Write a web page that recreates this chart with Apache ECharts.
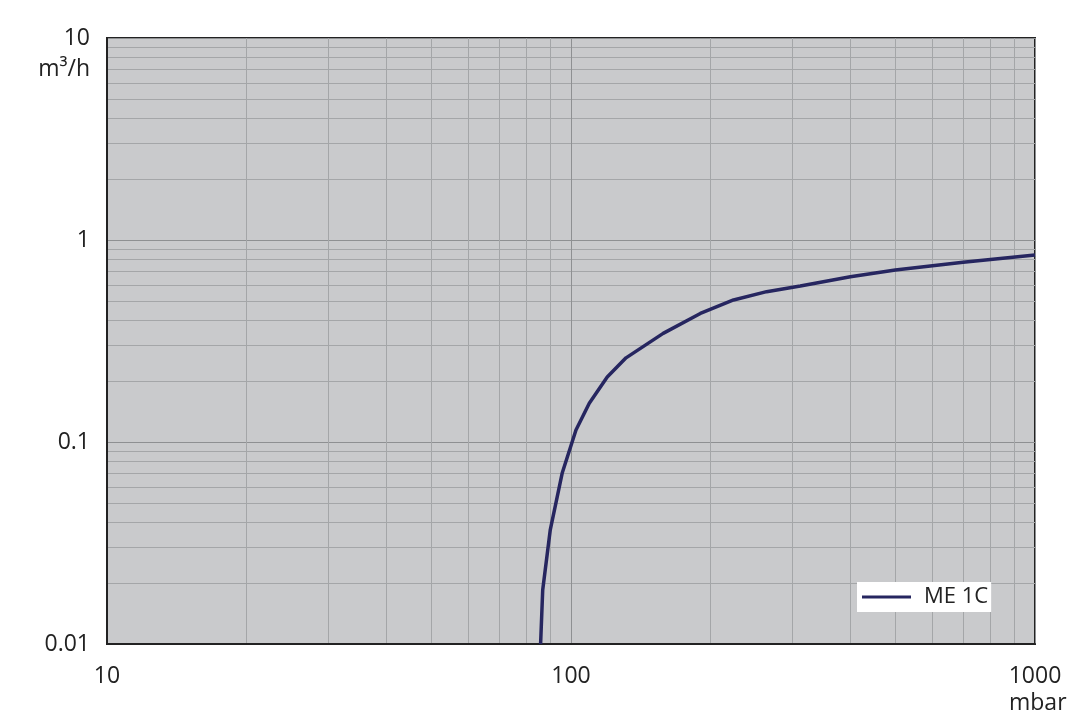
<!DOCTYPE html>
<html>
<head>
<meta charset="utf-8">
<script src="https://cdn.jsdelivr.net/npm/echarts@6/dist/echarts.min.js"></script>
<style>
  html, body { margin: 0; padding: 0; background: #fff; }
  #chart { width: 1080px; height: 721px; }
</style>
</head>
<body>
<div id="chart"></div>
<script>
// pressure (mbar) vs pumping speed (m³/h)
const pressure = [86.0, 86.9, 90.2, 95.7, 102.5, 109.5, 119.7, 131.4, 158, 190, 224, 264, 312, 400, 500, 700, 1000];
const speed = [0.01, 0.0185, 0.0366, 0.070, 0.1146, 0.1556, 0.21, 0.261, 0.345, 0.433, 0.505, 0.555, 0.592, 0.658, 0.710, 0.776, 0.843];
const seriesName = "ME 1C";
const xLabels = { 10: "10", 100: "100", 1000: "1000" };
const yLabels = { 0.01: "0.01", 0.1: "0.1", 1: "1", 10: "10" };

const font = "Open Sans";
const textColor = "#222";
const lineColor = "#262660";

const points = pressure.map(function(p, i) {
  return [p, speed[i]];
});

function labelFor(map, v) {
  for (const k in map) {
    if (Math.abs(Math.log10(+k) - Math.log10(v)) < 1e-6) return map[k];
  }
  return "";
}

const option = {
  animation: false,
  textStyle: { fontFamily: font },
  grid: {
    left: 107,
    right: 45,
    top: 38,
    bottom: 77,
    show: true,
    backgroundColor: "#c9cacc",
    borderColor: "#222",
    borderWidth: 2
  },
  legend: {
    left: 857,
    top: 582,
    itemWidth: 49,
    itemHeight: 3,
    padding: [4, 3, 4, 5],
    backgroundColor: "#fff",
    textStyle: { fontFamily: font, fontSize: 22, color: textColor, padding: [0, 0, 0, 8] },
    data: [{ name: seriesName, icon: "rect" }]
  },
  xAxis: {
    type: "log",
    logBase: 10,
    min: 10,
    max: 1000,
    axisLine: { show: true, lineStyle: { color: "#222", width: 2 } },
    axisTick: { show: false },
    axisLabel: {
      margin: 21,
      fontSize: 23,
      color: textColor,
      fontFamily: font,
      formatter: function(v) { return labelFor(xLabels, v); }
    },
    splitLine: { show: true, lineStyle: { color: "#8e9092", width: 1 } },
    minorTick: { show: false, splitNumber: 9 },
    minorSplitLine: { show: true, lineStyle: { color: "#a4a6a8", width: 1 } }
  },
  yAxis: {
    type: "log",
    logBase: 10,
    min: 0.01,
    max: 10,
    axisLine: { show: true, lineStyle: { color: "#222", width: 2 } },
    axisTick: { show: false },
    axisLabel: {
      margin: 17,
      fontSize: 23,
      color: textColor,
      fontFamily: font,
      formatter: function(v) { return labelFor(yLabels, v); }
    },
    splitLine: { show: true, lineStyle: { color: "#8e9092", width: 1 } },
    minorTick: { show: false, splitNumber: 9 },
    minorSplitLine: { show: true, lineStyle: { color: "#a4a6a8", width: 1 } }
  },
  graphic: [
    {
      type: "text",
      right: 990,
      top: 58,
      style: { text: "m³/h", font: "23px '" + font + "'", fill: textColor, textAlign: "right" }
    },
    {
      type: "text",
      left: 1009,
      top: 692,
      style: { text: "mbar", font: "23px '" + font + "'", fill: textColor }
    }
  ],
  series: [
    {
      name: seriesName,
      type: "line",
      symbol: "none",
      smooth: false,
      lineStyle: { color: lineColor, width: 3.5 },
      itemStyle: { color: lineColor },
      data: points
    }
  ]
};

const chart = echarts.init(document.getElementById("chart"));
chart.setOption(option);
</script>
</body>
</html>
